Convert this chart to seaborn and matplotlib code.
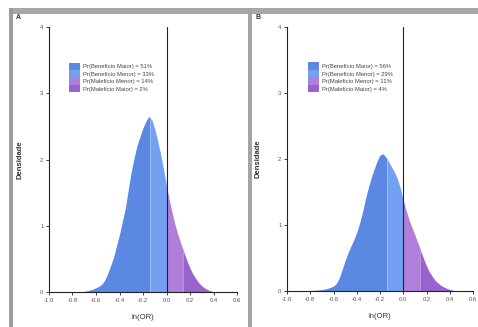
import numpy as np
import matplotlib
matplotlib.use("Agg")
import matplotlib.pyplot as plt
from matplotlib.patches import Rectangle
import seaborn as sns

# ── Dados ─────────────────────────────────────────────────────────────────────

X_A = [-0.750, -0.725, -0.700, -0.675, -0.650, -0.625, -0.600, -0.575, -0.550,
       -0.525, -0.500, -0.475, -0.450, -0.425, -0.400, -0.375, -0.350, -0.325,
       -0.300, -0.275, -0.250, -0.225, -0.200, -0.175, -0.150, -0.125, -0.100,
       -0.075, -0.050, -0.025, 0.000, 0.025, 0.050, 0.075, 0.100, 0.125, 0.150,
       0.175, 0.200, 0.225, 0.250, 0.275, 0.300, 0.325, 0.350, 0.375, 0.400,
       0.425]
DENS_A = [0.000, 0.005, 0.010, 0.020, 0.030, 0.045, 0.065, 0.085, 0.120,
          0.180, 0.280, 0.400, 0.530, 0.700, 0.870, 1.070, 1.270, 1.550,
          1.820, 2.030, 2.220, 2.350, 2.480, 2.580, 2.650, 2.600, 2.460,
          2.280, 2.080, 1.850, 1.600, 1.380, 1.180, 1.000, 0.850, 0.720, 0.590,
          0.470, 0.360, 0.270, 0.200, 0.140, 0.095, 0.060, 0.035, 0.018, 0.007,
          0.000]

X_B = [-0.850, -0.825, -0.800, -0.775, -0.750, -0.725, -0.700, -0.675, -0.650,
       -0.625, -0.600, -0.575, -0.550, -0.525, -0.500, -0.475, -0.450, -0.425,
       -0.400, -0.375, -0.350, -0.325, -0.300, -0.275, -0.250, -0.225, -0.200,
       -0.175, -0.150, -0.125, -0.100, -0.075, -0.050, -0.025, 0.000, 0.025,
       0.050, 0.075, 0.100, 0.125, 0.150, 0.175, 0.200, 0.225, 0.250, 0.275,
       0.300, 0.325, 0.350, 0.375, 0.400, 0.425, 0.450, 0.475]
DENS_B = [0.000, 0.003, 0.006, 0.010, 0.013, 0.017, 0.022, 0.030, 0.040,
          0.055, 0.075, 0.115, 0.200, 0.330, 0.460, 0.580, 0.680, 0.780,
          0.890, 1.030, 1.200, 1.400, 1.570, 1.720, 1.850, 1.970, 2.060,
          2.080, 2.030, 1.960, 1.880, 1.800, 1.700, 1.560, 1.380, 1.220,
          1.080, 0.960, 0.850, 0.730, 0.610, 0.490, 0.380, 0.290, 0.220, 0.160,
          0.120, 0.085, 0.060, 0.040, 0.025, 0.012, 0.005, 0.000]

LIMIARES = [-0.14, 0.0, 0.14]

CATEGORIAS = ["Benefício Maior", "Benefício Menor", "Malefício Menor", "Malefício Maior"]
PROB_A = [51, 33, 14, 2]
PROB_B = [56, 29, 11, 4]

CORES = ["#5a88e3", "#74a0f1", "#b07fd9", "#9863cf"]

XTICKS = [-1.0, -0.8, -0.6, -0.4, -0.2, 0.0, 0.2, 0.4, 0.6]
YTICKS = [0, 1, 2, 3, 4]

# ── Estilo ────────────────────────────────────────────────────────────────────

sns.set_theme(style="ticks")
plt.rcParams["font.family"] = ["Liberation Sans", "DejaVu Sans"]

W, H = 478, 327
fig = plt.figure(figsize=(W / 100, H / 100), dpi=100)
fig.patch.set_facecolor("white")


def painel(rect, x, dens, probs, leg_anchor):
    ax = fig.add_axes(rect)
    ax.set_facecolor("white")
    x = np.asarray(x)
    dens = np.asarray(dens)
    bordas = [-10] + LIMIARES + [10]
    for i, cor in enumerate(CORES):
        poly = ax.fill_between(x, 0, dens, color=cor, lw=0,
                               label=f"Pr({CATEGORIAS[i]}) = {probs[i]}%")
        clip = Rectangle((bordas[i], 0), bordas[i + 1] - bordas[i], 10,
                         transform=ax.transData)
        poly.set_clip_path(clip)
    # divisórias claras entre as regiões
    for t in [LIMIARES[0], LIMIARES[2]]:
        ax.vlines(t, 0, np.interp(t, x, dens), color="white", lw=0.5, alpha=0.45)
    ax.axvline(0, ymin=0, ymax=1, color="#222222", lw=0.8)

    ax.set_xlim(-1.0, 0.6)
    ax.set_ylim(0, 4)
    ax.set_xticks(XTICKS)
    ax.set_xticklabels([f"{v:.1f}" for v in XTICKS])
    ax.set_yticks(YTICKS)
    ax.tick_params(axis="both", labelsize=4.2, colors="#222222", length=2.5,
                   width=0.6, pad=1.5, labelcolor="#555555")
    sns.despine(ax=ax)
    for s in ["left", "bottom"]:
        ax.spines[s].set_linewidth(0.8)
        ax.spines[s].set_color("#222222")
    ax.set_xlabel("ln(OR)", fontsize=5.5, labelpad=8, color="#333333")
    ax.set_ylabel("Densidade", fontsize=5.5, fontweight="bold", labelpad=12,
                  color="#333333")

    leg = ax.legend(loc="upper left", bbox_to_anchor=leg_anchor, frameon=False,
                    fontsize=4.2, handlelength=1.9, handleheight=1.6,
                    labelspacing=0, handletextpad=0.5, borderpad=0,
                    borderaxespad=0)
    for t in leg.get_texts():
        t.set_color("#444444")
    return ax


painel([49 / W, 1 - 292 / H, 188 / W, 265 / H], X_A, DENS_A, PROB_A,
       (0.105, 0.866))
painel([287 / W, 1 - 291 / H, 186 / W, 264 / H], X_B, DENS_B, PROB_B,
       (0.115, 0.866))

fig.text(16 / W, 1 - 19 / H, "A", fontsize=5, fontweight="bold", color="#333333")
fig.text(255 / W, 1 - 19 / H, "B", fontsize=5, fontweight="bold", color="#333333")

# moldura cinza da captura de tela
fig.add_artist(Rectangle((9 / W, 1 - 14 / H), 1 - 9 / W, 6 / H,
                         transform=fig.transFigure, color="#a8a8a8", lw=0))
fig.add_artist(Rectangle((9 / W, 0), 4 / W, 1 - 8 / H,
                         transform=fig.transFigure, color="#9c9c9c", lw=0))
fig.add_artist(Rectangle((248 / W, 0), 4 / W, 1 - 8 / H,
                         transform=fig.transFigure, color="#a4a4a4", lw=0))

fig.savefig("out.png", dpi=100, facecolor="white")
